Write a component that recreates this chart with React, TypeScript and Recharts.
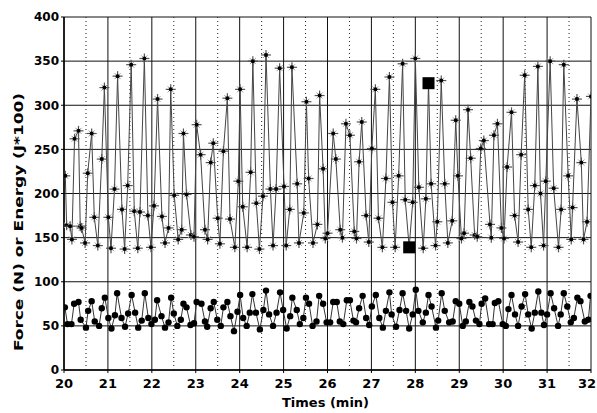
import React from 'react';
import { ComposedChart, Line, XAxis, YAxis, CartesianGrid, ReferenceLine } from 'recharts';

const forceTimes = [
  20.03, 20.06, 20.14, 20.18, 20.24, 20.33, 20.37, 20.40, 20.48, 20.54, 20.63, 20.69, 20.77, 20.86, 20.92,
  21.01, 21.07, 21.15, 21.22, 21.32, 21.38, 21.45, 21.53, 21.60, 21.68, 21.73, 21.83, 21.91, 21.98,
  22.05, 22.13, 22.23, 22.30, 22.38, 22.43, 22.51, 22.60, 22.68, 22.72, 22.79, 22.89, 22.96,
  23.02, 23.11, 23.21, 23.27, 23.34, 23.40, 23.50, 23.55, 23.63, 23.72, 23.78, 23.89, 23.97,
  24.01, 24.07, 24.17, 24.25, 24.30, 24.38, 24.45, 24.53, 24.60, 24.70, 24.76, 24.83, 24.91,
  25.01, 25.06, 25.14, 25.19, 25.31, 25.35, 25.46, 25.52, 25.57, 25.67, 25.77, 25.82, 25.90, 25.95,
  26.00, 26.13, 26.19, 26.29, 26.34, 26.42, 26.51, 26.61, 26.66, 26.72, 26.78, 26.88, 26.94,
  27.01, 27.09, 27.16, 27.25, 27.33, 27.41, 27.48, 27.54, 27.62, 27.71, 27.77, 27.86, 27.94,
  28.00, 28.08, 28.18, 28.24, 28.30, 28.36, 28.46, 28.50, 28.59, 28.67, 28.74, 28.84, 28.92, 28.97,
  29.05, 29.11, 29.20, 29.26, 29.35, 29.41, 29.49, 29.56, 29.70, 29.73, 29.79, 29.87, 29.96,
  30.02, 30.09, 30.19, 30.26, 30.34, 30.41, 30.49, 30.57, 30.64, 30.72, 30.79, 30.85, 30.92, 30.97,
  31.07, 31.15, 31.26, 31.32, 31.38, 31.48, 31.55, 31.58, 31.68, 31.78, 31.83, 31.91, 32.00,
];
const forceValues = [
  220, 164, 163, 148, 262, 271, 163, 161, 144, 223, 268, 173, 141, 239, 320,
  173, 138, 205, 333, 182, 137, 209, 346, 180, 138, 179, 353, 175, 139,
  186, 307, 174, 144, 161, 318, 198, 148, 159, 268, 199, 153, 151,
  278, 244, 159, 148, 235, 257, 172, 143, 248, 308, 171, 139, 214,
  318, 185, 139, 224, 350, 189, 137, 197, 357, 205, 141, 205, 342,
  208, 141, 182, 343, 211, 144, 178, 304, 217, 144, 165, 311, 228, 149,
  155, 268, 239, 159, 150, 279, 266, 157, 149, 236, 281, 175, 145,
  251, 318, 172, 139, 217, 332, 190, 139, 220, 347, 193, 139, 190,
  353, 207, 138, 194, 325, 211, 141, 168, 328, 211, 144, 169, 283, 220,
  149, 155, 295, 240, 153, 151, 251, 260, 165, 150, 266, 279, 161,
  149, 230, 292, 175, 145, 244, 334, 182, 139, 209, 344, 200, 141, 214,
  350, 206, 139, 182, 346, 220, 148, 184, 307, 235, 148, 168, 310,
];

const energyTimes = [
  20.02, 20.08, 20.17, 20.23, 20.33, 20.38, 20.50, 20.55, 20.63, 20.70, 20.80, 20.86, 20.93,
  21.01, 21.08, 21.16, 21.21, 21.31, 21.39, 21.46, 21.54, 21.62, 21.69, 21.77, 21.84, 21.92, 21.99,
  22.07, 22.12, 22.22, 22.30, 22.38, 22.44, 22.50, 22.58, 22.66, 22.72, 22.79, 22.88, 22.96,
  23.02, 23.13, 23.21, 23.26, 23.34, 23.41, 23.49, 23.57, 23.63, 23.72, 23.79, 23.87, 23.95,
  24.01, 24.08, 24.16, 24.23, 24.29, 24.37, 24.46, 24.54, 24.60, 24.67, 24.76, 24.84, 24.92, 24.99,
  25.07, 25.15, 25.20, 25.30, 25.37, 25.45, 25.51, 25.58, 25.66, 25.75, 25.81, 25.90, 25.98,
  26.06, 26.13, 26.21, 26.28, 26.36, 26.44, 26.51, 26.59, 26.65, 26.72, 26.80, 26.88, 26.95,
  27.01, 27.10, 27.18, 27.26, 27.33, 27.41, 27.46, 27.56, 27.64, 27.71, 27.79, 27.86, 27.94,
  28.01, 28.07, 28.17, 28.24, 28.30, 28.37, 28.47, 28.52, 28.60, 28.67, 28.77, 28.85, 28.92,
  29.00, 29.08, 29.15, 29.23, 29.30, 29.38, 29.46, 29.51, 29.59, 29.68, 29.76, 29.81, 29.89, 29.99,
  30.06, 30.12, 30.19, 30.27, 30.34, 30.42, 30.50, 30.57, 30.65, 30.72, 30.80, 30.87, 30.93,
  31.00, 31.08, 31.16, 31.25, 31.31, 31.38, 31.46, 31.54, 31.61, 31.69, 31.76, 31.86, 31.94, 31.99,
];
const energyValues = [
  71, 52, 52, 75, 77, 57, 48, 67, 78, 55, 50, 70, 82,
  59, 47, 62, 87, 59, 49, 64, 85, 65, 48, 56, 87, 59, 52,
  57, 79, 61, 48, 54, 82, 64, 50, 57, 75, 71, 51, 53,
  77, 75, 55, 49, 70, 77, 57, 50, 71, 77, 61, 44, 66,
  85, 59, 50, 65, 86, 65, 46, 68, 90, 63, 50, 65, 88, 68,
  47, 61, 82, 68, 52, 59, 82, 75, 50, 55, 84, 75, 54,
  54, 77, 77, 55, 52, 79, 79, 56, 54, 70, 84, 59, 51,
  72, 85, 59, 48, 67, 88, 63, 49, 68, 87, 67, 47, 63,
  91, 67, 54, 65, 85, 72, 48, 56, 87, 67, 54, 55, 78,
  75, 50, 55, 77, 72, 56, 52, 75, 81, 52, 52, 76, 78, 52,
  50, 69, 85, 63, 50, 72, 86, 63, 47, 65, 89, 65, 51,
  63, 87, 70, 50, 63, 87, 72, 54, 59, 82, 78, 55, 57, 84,
];

const markedTimes = [27.86, 28.3];
const markedValues = [139, 325];

const xTicks = [20, 21, 22, 23, 24, 25, 26, 27, 28, 29, 30, 31, 32];
const halfTicks = [20.5, 21.5, 22.5, 23.5, 24.5, 25.5, 26.5, 27.5, 28.5, 29.5, 30.5, 31.5];
const yTicks = [0, 50, 100, 150, 200, 250, 300, 350, 400];

const forceData = forceTimes.map((t, i) => ({ t, v: forceValues[i] }));
const energyData = energyTimes.map((t, i) => ({ t, v: energyValues[i] }));
const markedData = markedTimes.map((t, i) => ({ t, v: markedValues[i] }));

const FONT = "'DejaVu Sans', 'Liberation Sans', Arial, sans-serif";

const StarDot = (props: any) => {
  const { cx, cy, index } = props;
  if (cx == null || cy == null) return <g key={`s${index}`} />;
  return (
    <g key={`s${index}`}>
      <line x1={cx - 5} y1={cy} x2={cx + 5} y2={cy} stroke="#555" strokeWidth={1.2} />
      <line x1={cx} y1={cy - 5} x2={cx} y2={cy + 5} stroke="#555" strokeWidth={1.2} />
      <line x1={cx - 3} y1={cy - 3} x2={cx + 3} y2={cy + 3} stroke="#999" strokeWidth={1} />
      <line x1={cx - 3} y1={cy + 3} x2={cx + 3} y2={cy - 3} stroke="#999" strokeWidth={1} />
      <circle cx={cx} cy={cy} r={2} fill="#000" />
    </g>
  );
};

const RoundDot = (props: any) => {
  const { cx, cy, index } = props;
  if (cx == null || cy == null) return <g key={`c${index}`} />;
  return <circle key={`c${index}`} cx={cx} cy={cy} r={3.2} fill="#000" />;
};

const SquareDot = (props: any) => {
  const { cx, cy, index } = props;
  if (cx == null || cy == null) return <g key={`q${index}`} />;
  return <rect key={`q${index}`} x={cx - 6} y={cy - 6} width={12} height={12} fill="#000" />;
};

const XTick = (props: any) => {
  const { x, y, payload } = props;
  const isLast = payload.value === xTicks[xTicks.length - 1];
  return (
    <text
      x={isLast ? x + 5 : x}
      y={y}
      dy="0.71em"
      textAnchor={isLast ? 'end' : 'middle'}
      fontFamily={FONT}
      fontWeight="bold"
      fontSize={13}
      fill="#000"
    >
      {payload.value}
    </text>
  );
};

const XLabel = (props: any) => {
  const vb = props.viewBox || { x: 64, y: 370, width: 527, height: 43 };
  return (
    <text x={vb.x + vb.width / 2 - 2} y={vb.y + 37} textAnchor="middle" fontFamily={FONT} fontWeight="bold" fontSize={13} fill="#000">
      Times (min)
    </text>
  );
};

const YLabel = (props: any) => {
  const vb = props.viewBox || { x: 0, y: 17, width: 64, height: 353 };
  const x = vb.x + 23;
  const y = vb.y + 205;
  return (
    <text
      x={x}
      y={y}
      transform={`rotate(-90 ${x} ${y})`}
      textAnchor="middle"
      fontFamily={FONT}
      fontWeight="bold"
      fontSize={13}
      fill="#000"
      textLength={258}
      lengthAdjust="spacingAndGlyphs"
    >
      Force (N) or Energy (J*100)
    </text>
  );
};

export default function App() {
  return (
    <div style={{ position: 'absolute', left: 0, top: 0, width: 597, height: 413, background: '#fff' }}>
      <ComposedChart width={597} height={413} margin={{ top: 17, right: 6, left: 0, bottom: 0 }}>
        <CartesianGrid stroke="#111" strokeWidth={1} />
        <XAxis
          dataKey="t"
          type="number"
          domain={[20, 32]}
          ticks={xTicks}
          interval={0}
          allowDataOverflow
          height={43}
          tickSize={3}
          tickMargin={6}
          axisLine={{ stroke: '#000', strokeWidth: 1.5 }}
          tickLine={{ stroke: '#000' }}
          tick={<XTick />}
          label={<XLabel />}
        />
        <YAxis
          type="number"
          domain={[0, 400]}
          ticks={yTicks}
          interval={0}
          width={64}
          tickSize={3}
          tickMargin={2}
          axisLine={{ stroke: '#000', strokeWidth: 1.5 }}
          tickLine={{ stroke: '#000' }}
          tick={{ fontSize: 12, fontWeight: 'bold', fill: '#000', fontFamily: FONT }}
          label={<YLabel />}
        />
        {halfTicks.map((h) => (
          <ReferenceLine key={h} x={h} stroke="#222" strokeDasharray="1 3" strokeWidth={1} />
        ))}
        <Line
          data={forceData}
          dataKey="v"
          type="linear"
          stroke="#444"
          strokeWidth={1}
          dot={StarDot}
          activeDot={false}
          isAnimationActive={false}
        />
        <Line
          data={energyData}
          dataKey="v"
          type="linear"
          stroke="#333"
          strokeWidth={1}
          dot={RoundDot}
          activeDot={false}
          isAnimationActive={false}
        />
        <Line
          data={markedData}
          dataKey="v"
          type="linear"
          stroke="none"
          dot={SquareDot}
          activeDot={false}
          isAnimationActive={false}
        />
      </ComposedChart>
    </div>
  );
}
